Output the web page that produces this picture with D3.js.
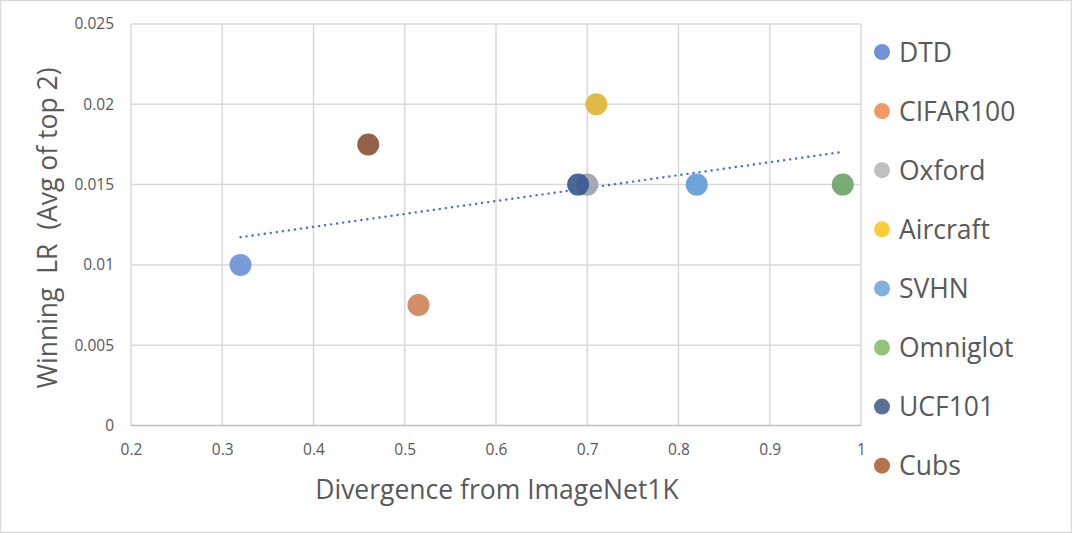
<!DOCTYPE html>
<html><head><meta charset="utf-8">
<script src="https://cdn.jsdelivr.net/npm/d3@7"></script>
<style>body{margin:0;background:#fff}svg{display:block}</style>
</head><body>
<svg id="c" width="1072" height="533"></svg>
<script>
const datasets = ["DTD","CIFAR100","Oxford","Aircraft","SVHN","Omniglot","UCF101","Cubs"];
const divergence = [0.32, 0.515, 0.70, 0.71, 0.82, 0.98, 0.69, 0.46];
const winningLR = [0.01, 0.0075, 0.015, 0.02, 0.015, 0.015, 0.015, 0.0175];
const markerColors = ["#6f93d6","#cf835a","#9ea3ae","#dcb535","#619cd6","#6fa66a","#3b5a91","#8b5538"];
const legendColors = ["#6f93d6","#f29a63","#bfbfbf","#ffcc3a","#7fb0de","#94c47a","#5a7096","#b5734a"];
const xTicks = [0.2,0.3,0.4,0.5,0.6,0.7,0.8,0.9,1];
const yTicks = [0,0.005,0.01,0.015,0.02,0.025];

const svg = d3.select("#c");
const font = "'Open Sans', 'Noto Sans', sans-serif";
const txt = "#595959";

svg.append("rect").attr("x",0.5).attr("y",0.5).attr("width",1071).attr("height",532)
  .attr("fill","#fff").attr("stroke","#d9d9d9").attr("stroke-width",1.5);

const L=131, R=861, T=24, B=425.5;
const x = d3.scaleLinear().domain([0.2,1]).range([L,R]);
const y = d3.scaleLinear().domain([0,0.025]).range([B,T]);

svg.append("g").selectAll("line.v").data(xTicks.slice(1)).join("line")
  .attr("x1",d=>x(d)).attr("x2",d=>x(d)).attr("y1",T).attr("y2",B)
  .attr("stroke","#d9d9d9").attr("stroke-width",1.5);
svg.append("g").selectAll("line.h").data(yTicks.slice(1)).join("line")
  .attr("x1",L).attr("x2",R).attr("y1",d=>y(d)).attr("y2",d=>y(d))
  .attr("stroke","#d9d9d9").attr("stroke-width",1.5);
svg.append("line").attr("x1",L).attr("x2",L).attr("y1",T).attr("y2",B).attr("stroke","#d9d9d9").attr("stroke-width",1.5);
svg.append("line").attr("x1",L).attr("x2",R).attr("y1",B).attr("y2",B).attr("stroke","#bfbfbf").attr("stroke-width",1.5);

const xAxis = svg.append("g").attr("transform",`translate(0,${B})`)
  .call(d3.axisBottom(x).tickValues(xTicks).tickSize(0).tickPadding(18).tickFormat(d=>String(+d.toFixed(1))));
xAxis.select(".domain").remove();
xAxis.selectAll("text").attr("fill",txt).style("font-family",font).style("font-size","15.5px");

const yAxis = svg.append("g").attr("transform",`translate(${L},0)`)
  .call(d3.axisLeft(y).tickValues(yTicks).tickSize(0).tickPadding(17).tickFormat(d=>String(+d.toFixed(3))));
yAxis.select(".domain").remove();
yAxis.selectAll("text").attr("fill",txt).style("font-family",font).style("font-size","15.5px");

const n = divergence.length;
const mx = d3.mean(divergence), my = d3.mean(winningLR);
let sxy=0, sxx=0;
for(let i=0;i<n;i++){ sxy += (divergence[i]-mx)*(winningLR[i]-my); sxx += (divergence[i]-mx)**2; }
const slope = sxy/sxx, icpt = my - slope*mx;
const x0 = d3.min(divergence), x1 = d3.max(divergence);
svg.append("line")
  .attr("x1",x(x0)).attr("y1",y(icpt+slope*x0))
  .attr("x2",x(x1)).attr("y2",y(icpt+slope*x1))
  .attr("stroke","#4472c4").attr("stroke-width",2.4)
  .attr("stroke-dasharray","0.1 6").attr("stroke-linecap","round");

svg.append("g").selectAll("circle").data(datasets).join("circle")
  .attr("cx",(d,i)=>x(divergence[i])).attr("cy",(d,i)=>y(winningLR[i]))
  .attr("r",11).attr("fill",(d,i)=>markerColors[i]).attr("fill-opacity",0.92);

const lg = svg.append("g");
datasets.forEach((d,i)=>{
  const cy = 52 + i*59.1;
  lg.append("circle").attr("cx",882).attr("cy",cy).attr("r",8).attr("fill",legendColors[i]);
  lg.append("text").attr("x",899).attr("y",cy).attr("dy","0.36em").text(d)
    .attr("fill",txt).style("font-family",font).style("font-size","26.5px");
});

svg.append("text").attr("x",497).attr("y",499).attr("text-anchor","middle")
  .text("Divergence from ImageNet1K").attr("fill",txt)
  .style("font-family",font).style("font-size","26.5px");
svg.append("text").attr("transform","translate(57,228) rotate(-90)").attr("text-anchor","middle")
  .text("Winning  LR  (Avg of top 2)").attr("fill",txt).style("white-space","pre")
  .attr("xml:space","preserve")
  .style("font-family",font).style("font-size","26.5px");
</script>
</body></html>
